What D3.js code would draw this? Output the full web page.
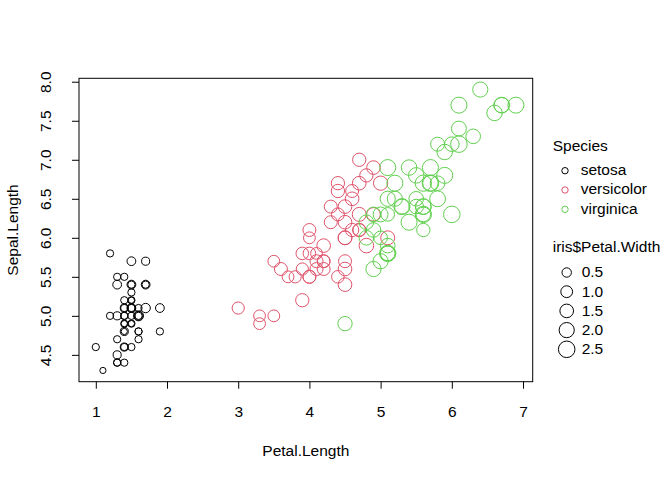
<!DOCTYPE html>
<html>
<head>
<meta charset="utf-8">
<script src="https://cdn.jsdelivr.net/npm/d3@7"></script>
<style>
  html, body { margin: 0; padding: 0; background: #fff; }
  text { font-family: "Liberation Sans", Arial, Helvetica, sans-serif; }
</style>
</head>
<body>
<svg id="chart" width="672" height="480"></svg>
<script>
// iris data, split by species
const setosaPetalLength = [1.4,1.4,1.3,1.5,1.4,1.7,1.4,1.5,1.4,1.5,1.5,1.6,1.4,1.1,1.2,1.5,1.3,1.4,1.7,1.5,1.7,1.5,1.0,1.7,1.9,1.6,1.6,1.5,1.4,1.6,1.6,1.5,1.5,1.4,1.5,1.2,1.3,1.4,1.3,1.5,1.3,1.3,1.3,1.6,1.9,1.4,1.6,1.4,1.5,1.4]
const setosaSepalLength = [5.1,4.9,4.7,4.6,5.0,5.4,4.6,5.0,4.4,4.9,5.4,4.8,4.8,4.3,5.8,5.7,5.4,5.1,5.7,5.1,5.4,5.1,4.6,5.1,4.8,5.0,5.0,5.2,5.2,4.7,4.8,5.4,5.2,5.5,4.9,5.0,5.5,4.9,4.4,5.1,5.0,4.5,4.4,5.0,5.1,4.8,5.1,4.6,5.3,5.0]
const setosaPetalWidth = [0.2,0.2,0.2,0.2,0.2,0.4,0.3,0.2,0.2,0.1,0.2,0.2,0.1,0.1,0.2,0.4,0.4,0.3,0.3,0.3,0.2,0.4,0.2,0.5,0.2,0.2,0.4,0.2,0.2,0.2,0.2,0.4,0.1,0.2,0.2,0.2,0.2,0.1,0.2,0.2,0.3,0.3,0.2,0.6,0.4,0.3,0.2,0.2,0.2,0.2]

const versicolorPetalLength = [4.7,4.5,4.9,4.0,4.6,4.5,4.7,3.3,4.6,3.9,3.5,4.2,4.0,4.7,3.6,4.4,4.5,4.1,4.5,3.9,4.8,4.0,4.9,4.7,4.3,4.4,4.8,5.0,4.5,3.5,3.8,3.7,3.9,5.1,4.5,4.5,4.7,4.4,4.1,4.0,4.4,4.6,4.0,3.3,4.2,4.2,4.2,4.3,3.0,4.1]
const versicolorSepalLength = [7.0,6.4,6.9,5.5,6.5,5.7,6.3,4.9,6.6,5.2,5.0,5.9,6.0,6.1,5.6,6.7,5.6,5.8,6.2,5.6,5.9,6.1,6.3,6.1,6.4,6.6,6.8,6.7,6.0,5.7,5.5,5.5,5.8,6.0,5.4,6.0,6.7,6.3,5.6,5.5,5.5,6.1,5.8,5.0,5.6,5.7,5.7,6.2,5.1,5.7]
const versicolorPetalWidth = [1.4,1.5,1.5,1.3,1.5,1.3,1.6,1.0,1.3,1.4,1.0,1.5,1.0,1.4,1.3,1.4,1.5,1.0,1.5,1.1,1.8,1.3,1.5,1.2,1.3,1.4,1.4,1.7,1.5,1.0,1.1,1.0,1.2,1.6,1.5,1.6,1.5,1.3,1.3,1.3,1.2,1.4,1.2,1.0,1.3,1.2,1.3,1.3,1.1,1.3]

const virginicaPetalLength = [6.0,5.1,5.9,5.6,5.8,6.6,4.5,6.3,5.8,6.1,5.1,5.3,5.5,5.0,5.1,5.3,5.5,6.7,6.9,5.0,5.7,4.9,6.7,4.9,5.7,6.0,4.8,4.9,5.6,5.8,6.1,6.4,5.6,5.1,5.6,6.1,5.6,5.5,4.8,5.4,5.6,5.1,5.1,5.9,5.7,5.2,5.0,5.2,5.4,5.1]
const virginicaSepalLength = [6.3,5.8,7.1,6.3,6.5,7.6,4.9,7.3,6.7,7.2,6.5,6.4,6.8,5.7,5.8,6.4,6.5,7.7,7.7,6.0,6.9,5.6,7.7,6.3,6.7,7.2,6.2,6.1,6.4,7.2,7.4,7.9,6.4,6.3,6.1,7.7,6.3,6.4,6.0,6.9,6.7,6.9,5.8,6.8,6.7,6.7,6.3,6.5,6.2,5.9]
const virginicaPetalWidth = [2.5,1.9,2.1,1.8,2.2,2.1,1.7,1.8,1.8,2.5,2.0,1.9,2.1,2.0,2.4,2.3,1.8,2.2,2.3,1.5,2.3,2.0,2.0,1.8,2.1,1.8,1.8,1.8,2.1,1.6,1.9,2.0,2.2,1.5,1.4,2.3,2.4,1.8,1.8,2.1,2.4,2.3,1.9,2.3,2.5,2.3,1.9,2.0,2.3,1.8]

const speciesNames = ['setosa','versicolor','virginica']
const speciesColors = ['#000000','#DF536B','#61D04F']
const sizeLegendValues = [0.5,1.0,1.5,2.0,2.5]
const xTicks = [1,2,3,4,5,6,7]
const yTicks = [4.5,5.0,5.5,6.0,6.5,7.0,7.5,8.0]

const groups = [
  {pl: setosaPetalLength, sl: setosaSepalLength, pw: setosaPetalWidth},
  {pl: versicolorPetalLength, sl: versicolorSepalLength, pw: versicolorPetalWidth},
  {pl: virginicaPetalLength, sl: virginicaSepalLength, pw: virginicaPetalWidth}
]
let points = []
groups.forEach((g, si) => {
  g.pl.forEach((v, i) => points.push({x: v, y: g.sl[i], w: g.pw[i], s: si}))
})

const svg = d3.select('#chart')
const fontSize = 15.5
const box = {left: 79, right: 532.7, top: 78.3, bottom: 381.7}

// R style 4% range extension
function pad(ext){
  const d = (ext[1] - ext[0]) * 0.04
  return [ext[0] - d, ext[1] + d]
}
const x = d3.scaleLinear().domain(pad(d3.extent(points, d => d.x))).range([box.left, box.right])
const y = d3.scaleLinear().domain(pad(d3.extent(points, d => d.y))).range([box.bottom, box.top])
const r = w => 1.8 + 4.1 * Math.sqrt(w)

// points
svg.append('g').selectAll('circle')
  .data(points)
  .enter()
  .append('circle')
  .attr('cx', d => x(d.x))
  .attr('cy', d => y(d.y))
  .attr('r', d => r(d.w))
  .attr('fill', 'none')
  .attr('stroke', d => speciesColors[d.s])
  .attr('stroke-width', 1)

// axes
const gx = svg.append('g')
  .attr('transform', `translate(0,${box.bottom})`)
  .call(d3.axisBottom(x).tickValues(xTicks).tickSize(7).tickFormat(d3.format('d')))
gx.select('.domain').remove()
gx.selectAll('line').attr('stroke', '#000')
gx.selectAll('text')
  .attr('y', 35)
  .attr('dy', null)
  .attr('fill', '#000')
  .attr('font-size', fontSize)
  .attr('font-family', '"Liberation Sans", Arial, sans-serif')

const gy = svg.append('g')
  .attr('transform', `translate(${box.left},0)`)
  .call(d3.axisLeft(y).tickValues(yTicks).tickSize(7).tickFormat(d3.format('.1f')))
gy.select('.domain').remove()
gy.selectAll('line').attr('stroke', '#000')
gy.selectAll('text')
  .attr('transform', 'rotate(-90)')
  .attr('x', 0)
  .attr('y', -28)
  .attr('dy', null)
  .attr('text-anchor', 'middle')
  .attr('fill', '#000')
  .attr('font-size', fontSize)
  .attr('font-family', '"Liberation Sans", Arial, sans-serif')

// box
svg.append('rect')
  .attr('x', box.left)
  .attr('y', box.top)
  .attr('width', box.right - box.left)
  .attr('height', box.bottom - box.top)
  .attr('fill', 'none')
  .attr('stroke', '#000')
  .attr('stroke-width', 1)

// axis titles
svg.append('text')
  .attr('x', (box.left + box.right) / 2)
  .attr('y', 456)
  .attr('text-anchor', 'middle')
  .attr('font-size', fontSize)
  .text('Petal.Length')
svg.append('text')
  .attr('transform', `translate(17.5,${(box.top + box.bottom) / 2}) rotate(-90)`)
  .attr('text-anchor', 'middle')
  .attr('font-size', fontSize)
  .text('Sepal.Length')

// legend: species
const lg = svg.append('g')
lg.append('text').attr('x', 552.7).attr('y', 150.7).attr('font-size', fontSize).text('Species')
speciesNames.forEach((name, i) => {
  const by = 175 + i * 19.3
  lg.append('circle')
    .attr('cx', 565).attr('cy', by - 4.3).attr('r', 3.2)
    .attr('fill', 'none').attr('stroke', speciesColors[i]).attr('stroke-width', 1)
  lg.append('text').attr('x', 580.7).attr('y', by).attr('font-size', fontSize).text(name)
})

// legend: size
lg.append('text').attr('x', 552.7).attr('y', 251.7).attr('font-size', fontSize).text('iris$Petal.Width')
sizeLegendValues.forEach((v, i) => {
  const by = 277.3 + i * 19.2
  lg.append('circle')
    .attr('cx', 566.7).attr('cy', by - 4.8).attr('r', r(v))
    .attr('fill', 'none').attr('stroke', '#000').attr('stroke-width', 1)
  lg.append('text').attr('x', 581.7).attr('y', by).attr('font-size', fontSize).text(d3.format('.1f')(v))
})
</script>
</body>
</html>
